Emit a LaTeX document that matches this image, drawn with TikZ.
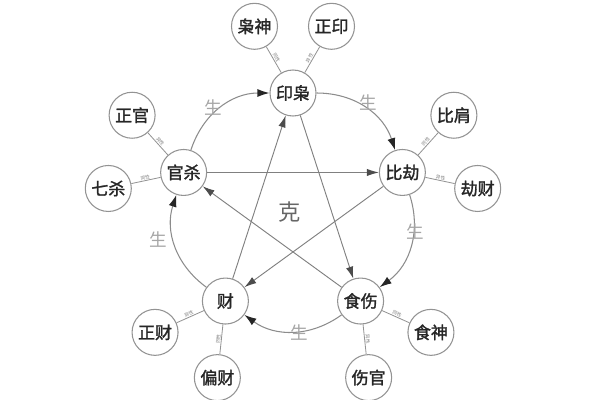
\documentclass[tikz,border=0pt]{standalone}
\usepackage{fontspec}
\newfontfamily\cjk[AutoFakeBold=1.6]{Noto Sans CJK SC}
\usetikzlibrary{arrows.meta,calc,positioning}

\begin{document}
\begin{tikzpicture}[
	hub/.style={circle, draw=gray!85, line width=0.9pt, fill=white, minimum size=1.38cm, inner sep=0pt, font=\cjk\bfseries\fontsize{14.5}{15}\selectfont, text=black!85},
	god/.style={hub},
	ring/.style={draw=gray!90, line width=0.9pt, -{Latex[length=3.6mm,width=2.4mm,color=black!85]}},
	ke/.style={draw=gray, line width=0.8pt, -{Latex[length=3.6mm,width=2.2mm,color=black!70]}},
	spoke/.style={draw=gray!85, line width=0.7pt},
	tag/.style={font=\cjk\fontsize{4}{4.5}\selectfont, text=gray, sloped, inner sep=0.5pt, above},
	sheng/.style={font=\cjk\fontsize{15}{15}\selectfont, text=black!35},
]
	\useasboundingbox (0,0) rectangle (18,-12);
	% centre of the wheel
	\coordinate (wheel) at (8.79,-6.24);
	\node[hub] (yinxiao)  at ($(wheel)+(90:3.45)$)   {印枭};
	\node[hub] (bijie)    at ($(wheel)+(18:3.45)$)   {比劫};
	\node[hub] (shishang) at ($(wheel)+(-54:3.45)$)  {食伤};
	\node[hub] (cai)      at ($(wheel)+(-126:3.45)$) {财};
	\node[hub] (guansha)  at ($(wheel)+(162:3.45)$)  {官杀};
	% the ten gods
	\node[god] (xiaoshen)  at ($(yinxiao)+(120:2.31)$)  {枭神};
	\node[god] (zhengyin)  at ($(yinxiao)+(60:2.31)$)   {正印};
	\node[god] (bijian)    at ($(bijie)+(48:2.31)$)     {比肩};
	\node[god] (jiecai)    at ($(bijie)+(-12:2.31)$)    {劫财};
	\node[god] (shishen)   at ($(shishang)+(-24:2.31)$) {食神};
	\node[god] (shangguan) at ($(shishang)+(-84:2.31)$) {伤官};
	\node[god] (piancai)   at ($(cai)+(-96:2.31)$)      {偏财};
	\node[god] (zhengcai)  at ($(cai)+(-156:2.31)$)     {正财};
	\node[god] (qisha)     at ($(guansha)+(192:2.31)$)  {七杀};
	\node[god] (zhengguan) at ($(guansha)+(132:2.31)$)  {正官};
	% spokes
	\draw[spoke] (yinxiao) -- node[tag] {同性} (xiaoshen);
	\draw[spoke] (yinxiao) -- node[tag] {异性} (zhengyin);
	\draw[spoke] (bijie) -- node[tag] {同性} (bijian);
	\draw[spoke] (bijie) -- node[tag] {异性} (jiecai);
	\draw[spoke] (shishang) -- node[tag] {同性} (shishen);
	\draw[spoke] (shishang) -- node[tag] {异性} (shangguan);
	\draw[spoke] (cai) -- node[tag] {同性} (piancai);
	\draw[spoke] (cai) -- node[tag] {异性} (zhengcai);
	\draw[spoke] (guansha) -- node[tag] {同性} (qisha);
	\draw[spoke] (guansha) -- node[tag] {异性} (zhengguan);
	% sheng cycle
	\draw[ring] (yinxiao) to[bend left=36] (bijie);
	\draw[ring] (bijie) to[bend left=36] (shishang);
	\draw[ring] (shishang) to[bend left=36] (cai);
	\draw[ring] (cai) to[bend left=36] (guansha);
	\draw[ring] (guansha) to[bend left=36] (yinxiao);
	% ke star
	\draw[ke] (yinxiao) -- (shishang);
	\draw[ke] (shishang) -- (guansha);
	\draw[ke] (guansha) -- (bijie);
	\draw[ke] (bijie) -- (cai);
	\draw[ke] (cai) -- (yinxiao);
	\node[sheng] (s1) at (6.39,-3.24) {生};
	\node[sheng] (s2) at (11.04,-3.09) {生};
	\node[sheng] (s3) at (12.45,-6.96) {生};
	\node[sheng] (s4) at (8.97,-9.99) {生};
	\node[sheng] (s5) at (4.74,-7.2) {生};
	\node[font=\cjk\fontsize{19}{19}\selectfont, text=black!60] (ke) at (8.7,-6.36) {克};
\end{tikzpicture}
\end{document}
